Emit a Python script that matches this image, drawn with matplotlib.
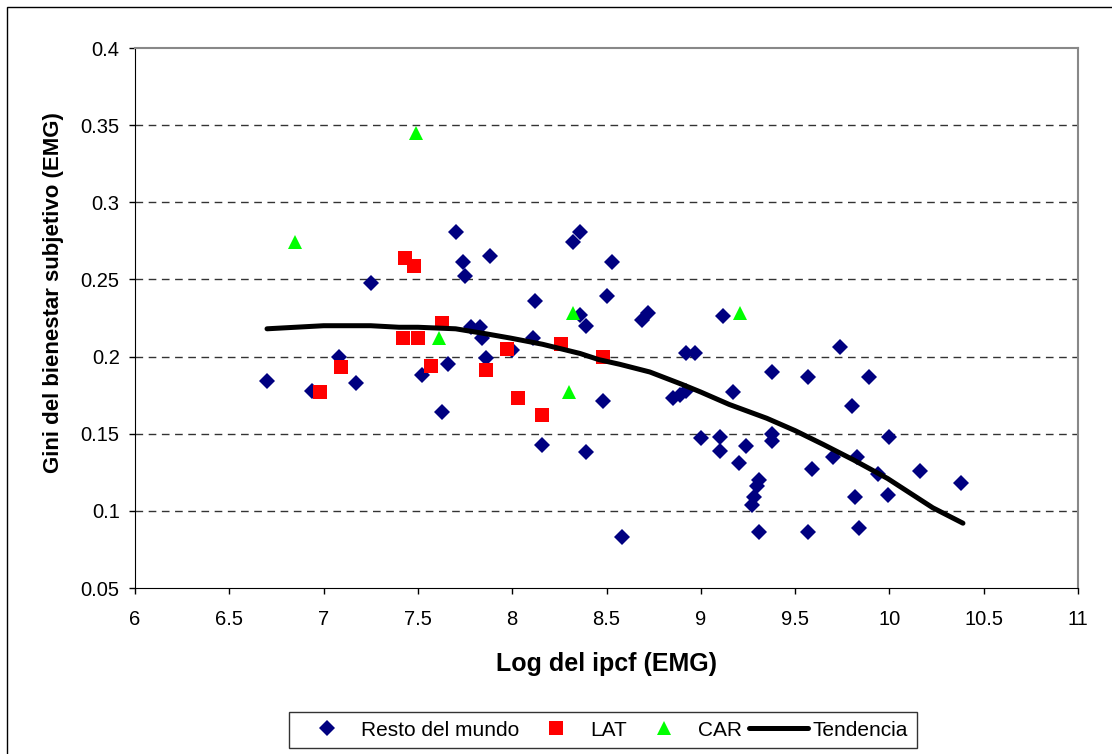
import matplotlib.pyplot as plt
from matplotlib.patches import Rectangle

plt.rcParams['font.family'] = ['Liberation Sans', 'DejaVu Sans']

# Resto del mundo
resto_x = [6.70, 6.94, 7.08, 7.17, 7.25, 7.52, 7.63, 7.66, 7.70, 7.74, 7.75, 7.78,
           7.83, 7.84, 7.86, 7.88, 8.00, 8.11, 8.12, 8.16, 8.32, 8.36, 8.36, 8.39,
           8.39, 8.48, 8.50, 8.53, 8.58, 8.69, 8.72, 8.85, 8.89, 8.92, 8.92, 8.97,
           9.00, 9.10, 9.10, 9.12, 9.17, 9.20, 9.24, 9.27, 9.28, 9.30, 9.31, 9.31,
           9.38, 9.38, 9.38, 9.57, 9.57, 9.59, 9.70, 9.74, 9.80, 9.82, 9.83, 9.84,
           9.89, 9.94, 9.99, 10.00, 10.16, 10.38]
resto_y = [0.184, 0.178, 0.200, 0.183, 0.248, 0.188, 0.164, 0.195, 0.281, 0.261, 0.252, 0.219,
           0.219, 0.212, 0.199, 0.265, 0.204, 0.212, 0.236, 0.143, 0.274, 0.281, 0.227, 0.220,
           0.138, 0.171, 0.239, 0.261, 0.083, 0.224, 0.228, 0.173, 0.175, 0.178, 0.2025, 0.2025,
           0.147, 0.148, 0.139, 0.226, 0.177, 0.131, 0.142, 0.104, 0.109, 0.116, 0.120, 0.086,
           0.190, 0.150, 0.145, 0.187, 0.086, 0.127, 0.135, 0.206, 0.168, 0.109, 0.135, 0.089,
           0.187, 0.124, 0.110, 0.148, 0.126, 0.118]

# LAT
lat_x = [6.98, 7.09, 7.42, 7.43, 7.48, 7.50, 7.57, 7.63, 7.86, 7.97, 8.03, 8.16, 8.26, 8.48]
lat_y = [0.177, 0.193, 0.212, 0.264, 0.259, 0.212, 0.194, 0.222, 0.191, 0.205, 0.173, 0.162, 0.208, 0.200]

# CAR
car_x = [6.85, 7.49, 7.61, 8.30, 8.32, 9.21]
car_y = [0.274, 0.345, 0.212, 0.177, 0.228, 0.228]

# Tendencia
trend_x = [6.70, 6.85, 7.0, 7.25, 7.40, 7.50, 7.70, 7.85, 7.99, 8.16, 8.36, 8.46, 8.57,
           8.73, 8.90, 9.0, 9.15, 9.35, 9.50, 9.65, 9.81, 9.99, 10.23, 10.39]
trend_y = [0.218, 0.219, 0.220, 0.220, 0.219, 0.219, 0.218, 0.215, 0.212, 0.208, 0.202, 0.198, 0.195,
           0.190, 0.182, 0.177, 0.169, 0.160, 0.152, 0.143, 0.133, 0.121, 0.102, 0.092]

W, H = 1112, 754
fig = plt.figure(figsize=(W / 100, H / 100), dpi=100)
fig.patches.append(Rectangle((7 / W, -0.01), 1.02, 1 - 7 / H + 0.01, transform=fig.transFigure,
                             fill=False, edgecolor='black', linewidth=1))
ax = fig.add_axes([135 / W, 1 - 588 / H, (1078 - 135) / W, (588 - 48) / H])

ax.plot(resto_x, resto_y, 'D', color='#000080', markersize=7.8, markeredgewidth=0,
        linestyle='none', label='Resto del mundo', zorder=3)
ax.plot(lat_x, lat_y, 's', color='#FF0000', markersize=10, markeredgewidth=0,
        linestyle='none', label='LAT', zorder=4)
ax.plot(car_x, car_y, '^', color='#00FF00', markersize=9.5, markeredgewidth=0,
        linestyle='none', label='CAR', zorder=4)
ax.plot(trend_x, trend_y, color='black', linewidth=3.6, label='Tendencia', zorder=5,
        solid_capstyle='round')

ax.set_xlim(6, 11)
ax.set_ylim(0.05, 0.4)
ax.set_xticks([6, 6.5, 7, 7.5, 8, 8.5, 9, 9.5, 10, 10.5, 11])
ax.set_xticklabels(['6', '6.5', '7', '7.5', '8', '8.5', '9', '9.5', '10', '10.5', '11'])
ax.set_yticks([0.05, 0.1, 0.15, 0.2, 0.25, 0.3, 0.35, 0.4])
ax.set_yticklabels(['0.05', '0.1', '0.15', '0.2', '0.25', '0.3', '0.35', '0.4'])
ax.tick_params(labelsize=14.5, length=4, width=1, direction='out')
ax.tick_params(axis='x', pad=12)
ax.tick_params(axis='y', pad=7)

for yv in [0.1, 0.15, 0.2, 0.25, 0.3, 0.35]:
    ax.axhline(yv, color='#333333', linewidth=1, linestyle=(0, (5.5, 4)), zorder=1)

ax.spines['left'].set_color('black')
ax.spines['bottom'].set_color('black')
ax.spines['top'].set_color('#888888')
ax.spines['right'].set_color('#888888')
ax.spines['top'].set_linewidth(1.5)
ax.spines['right'].set_linewidth(1.5)

ax.set_xlabel('Log del ipcf (EMG)', fontsize=18, fontweight='bold')
ax.set_ylabel('Gini del bienestar subjetivo (EMG)', fontsize=16, fontweight='bold')
ax.xaxis.set_label_coords(0.5, (588 - 652) / 540)
ax.yaxis.set_label_coords((64 - 135) / 943, (588 - 293) / 540)

leg = fig.legend(loc='center', bbox_to_anchor=(603 / W, 1 - 730 / H), ncol=4, fontsize=15,
                 frameon=True, fancybox=False, edgecolor='black', handlelength=2.8,
                 handletextpad=0.25, columnspacing=0.35, borderpad=0.4)
leg.get_frame().set_linewidth(1)

fig.savefig('out.png', dpi=100)
